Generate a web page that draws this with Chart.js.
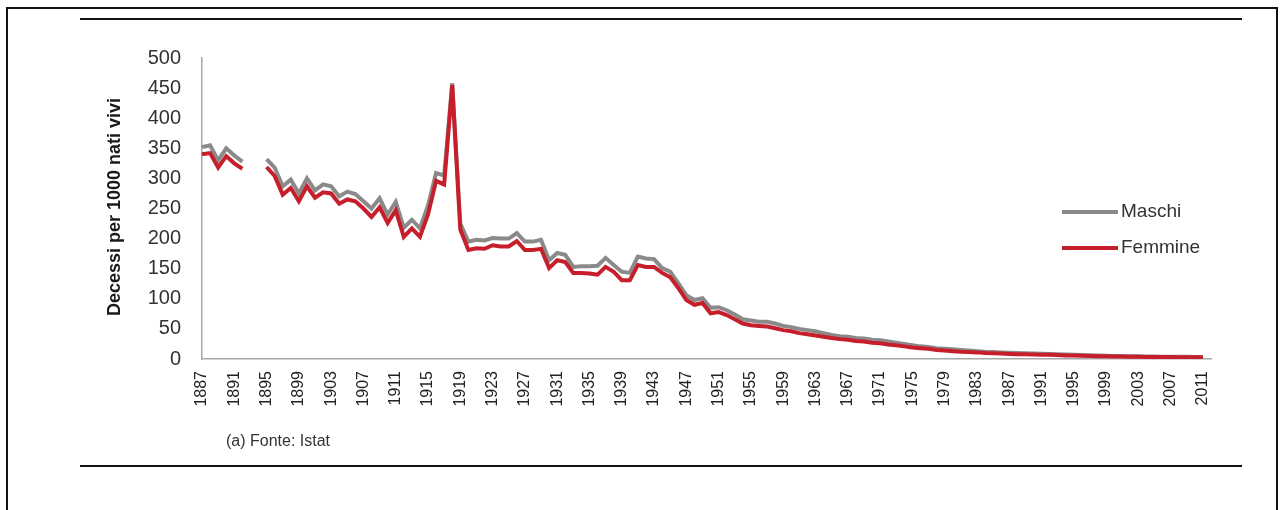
<!DOCTYPE html>
<html>
<head>
<meta charset="utf-8">
<script src="https://cdn.jsdelivr.net/npm/chart.js@4.4.1/dist/chart.umd.min.js"></script>
<style>
  html, body { margin:0; padding:0; background:#fff; width:1284px; height:510px; overflow:hidden; }
  #frame { position:absolute; left:6px; top:7px; width:1272px; height:600px; border:2px solid #111; box-sizing:border-box; }
  .rule { position:absolute; left:80px; width:1162px; height:2px; background:#111; }
  #c { position:absolute; left:0; top:0; }
</style>
</head>
<body>
<div id="frame"></div>
<div class="rule" style="top:18px"></div>
<div class="rule" style="top:465px"></div>
<canvas id="c" width="1284" height="510"></canvas>
<script>
// ---- data ----
const years = [];
for (let y = 1887; y <= 2012; y++) years.push(y);

const maschi = [
  352,355,330,350,338,328,null,null,                 // 1887-1894
  332,318,287,298,275,300,280,290,287,270,278,274,   // 1895-1906
  262,250,267,240,261,218,231,217,255,309,305,458,   // 1907-1918
  225,195,198,197,201,200,200,209,195,195,198,164,   // 1919-1930
  176,173,153,154,154,155,168,156,145,143,170,167,   // 1931-1942
  166,151,145,126,106,98,101,85,86,81,74,66,         // 1943-1954
  64,62,62,59,55,53,50,48,46,43,40,38,               // 1955-1966
  37,35,34,32,31,29,27,25,23,21,20,18,               // 1967-1978
  17,16,15,14,13,12,11.5,11,10.5,10,9.5,9,           // 1979-1990
  8.7,8.3,7.8,7.3,6.9,6.5,6.1,5.8,5.4,5,4.8,4.6,     // 1991-2002
  4.4,4.2,4,3.9,3.8,3.7,3.6,3.5,3.4,null             // 2003-2012
];
const femmine = [
  340,342,318,337,325,316,null,null,                 // 1887-1894
  319,304,273,284,262,287,268,277,275,258,265,262,   // 1895-1906
  250,236,252,226,247,203,217,203,240,296,290,455,   // 1907-1918
  215,181,184,183,189,187,187,196,181,181,183,151,   // 1919-1930
  164,161,143,143,142,140,153,145,131,131,156,153,   // 1931-1942
  153,143,136,118,98,90,93,76,78,73,66,59,           // 1943-1954
  56,55,54,51,48,46,43,41,39,37,35,33,               // 1955-1966
  32,30,29,27,26,24,23,21,19,18,17,15,               // 1967-1978
  14,13,12,11.5,11,10,9.5,9,8.5,8,7.8,7.5,           // 1979-1990
  7.2,7,6.5,6,5.7,5.3,5,4.7,4.5,4.2,4,3.9,           // 1991-2002
  3.7,3.5,3.4,3.3,3.2,3.1,3.1,3.0,3.0,null           // 2003-2012
];
const yTicks = [0,50,100,150,200,250,300,350,400,450,500];
const seriesNames = ['Maschi', 'Femmine'];
const seriesColors = ['#8a8a8a', '#c61f2b'];
const yTitle = 'Decessi per 1000 nati vivi';
const sourceNote = '(a) Fonte: Istat';

const FONT = "'Liberation Sans', Arial, sans-serif";

const overlay = {
  id: 'overlay',
  afterDraw(chart) {
    const ctx = chart.ctx;
    ctx.save();
    // y axis title
    ctx.translate(115, 207);
    ctx.rotate(-Math.PI / 2);
    ctx.font = "bold 18px " + FONT;
    ctx.fillStyle = '#1a1a1a';
    ctx.textAlign = 'center';
    ctx.textBaseline = 'middle';
    ctx.fillText(yTitle, 0, 0);
    ctx.restore();

    // legend
    ctx.save();
    const ly = [212, 248];
    for (let i = 0; i < 2; i++) {
      ctx.strokeStyle = seriesColors[i];
      ctx.lineWidth = 4;
      ctx.beginPath();
      ctx.moveTo(1062, ly[i]);
      ctx.lineTo(1118, ly[i]);
      ctx.stroke();
      ctx.font = "19px " + FONT;
      ctx.fillStyle = '#333';
      ctx.textAlign = 'left';
      ctx.textBaseline = 'middle';
      ctx.fillText(seriesNames[i], 1121, ly[i]);
    }
    // source note
    ctx.font = "16px " + FONT;
    ctx.fillStyle = '#333';
    ctx.fillText(sourceNote, 226, 442);
    ctx.restore();
  }
};

new Chart(document.getElementById('c'), {
  type: 'line',
  data: {
    labels: years,
    datasets: [
      { label: seriesNames[0], data: maschi, borderColor: seriesColors[0], borderWidth: 4, pointRadius: 0, tension: 0, spanGaps: false, order: 2 },
      { label: seriesNames[1], data: femmine, borderColor: seriesColors[1], borderWidth: 4, pointRadius: 0, tension: 0, spanGaps: false, order: 1 }
    ]
  },
  options: {
    responsive: false,
    animation: false,
    devicePixelRatio: 1,
    layout: { padding: { left: 0, top: 58, right: 73, bottom: 0 } },
    plugins: { legend: { display: false }, tooltip: { enabled: false } },
    scales: {
      x: {
        type: 'category',
        grid: { color: 'rgba(0,0,0,0)', drawTicks: false },
        border: { color: '#a8a8a8', width: 1.5 },
        ticks: {
          autoSkip: false, minRotation: 90, maxRotation: 90, padding: 12,
          font: { size: 16, family: FONT }, color: '#222',
          callback: function(v, i) { return (years[i] - 1887) % 4 === 0 ? String(years[i]) : ''; }
        },
        afterFit: s => { s.height = 151; }
      },
      y: {
        min: 0, max: 500,
        afterBuildTicks: s => { s.ticks = yTicks.map(v => ({ value: v })); },
        grid: { color: 'rgba(0,0,0,0)', drawTicks: false },
        border: { color: '#a8a8a8', width: 1.5 },
        ticks: { padding: 21, font: { size: 20, family: FONT }, color: '#333' },
        afterFit: s => { s.width = 202; }
      }
    }
  },
  plugins: [overlay]
});
</script>
</body>
</html>
